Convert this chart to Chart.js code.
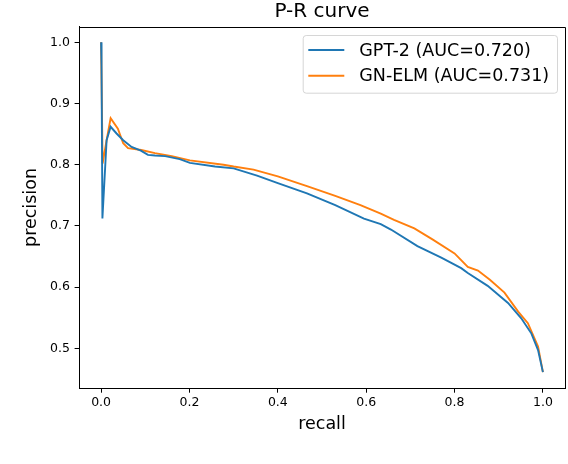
<!DOCTYPE html>
<html>
<head>
<meta charset="utf-8">
<script src="https://cdn.jsdelivr.net/npm/chart.js@4"></script>
<style>
  html, body { margin: 0; padding: 0; background: #ffffff; }
  #wrap { width: 568px; height: 464px; }
</style>
</head>
<body>
<div id="wrap"><canvas id="c" width="568" height="464" style="width:568px;height:464px"></canvas></div>
<script>
// ---- data ----
const seriesNames = ['GPT-2 (AUC=0.720)', 'GN-ELM (AUC=0.731)'];

const gptRecall = [0, 0.001, 0.003, 0.0125, 0.0216, 0.035, 0.05, 0.069, 0.09, 0.106, 0.122, 0.145, 0.178, 0.201, 0.258, 0.30, 0.353, 0.40, 0.466, 0.53, 0.595, 0.633, 0.656, 0.716, 0.77, 0.815, 0.83, 0.875, 0.921, 0.951, 0.974, 0.989, 1.0];
const gptPrecision = [1.0, 0.963, 0.712, 0.84, 0.862, 0.851, 0.84, 0.829, 0.823, 0.816, 0.815, 0.814, 0.809, 0.803, 0.797, 0.794, 0.782, 0.770, 0.753, 0.734, 0.712, 0.703, 0.694, 0.667, 0.648, 0.631, 0.623, 0.602, 0.574, 0.549, 0.524, 0.497, 0.461];

const gnRecall = [0, 0.0034, 0.0125, 0.0216, 0.038, 0.05, 0.061, 0.091, 0.122, 0.16, 0.201, 0.277, 0.30, 0.345, 0.40, 0.466, 0.53, 0.587, 0.633, 0.663, 0.709, 0.75, 0.80, 0.83, 0.853, 0.88, 0.913, 0.944, 0.966, 0.989, 1.0];
const gnPrecision = [1.0, 0.802, 0.84, 0.876, 0.859, 0.835, 0.827, 0.824, 0.819, 0.814, 0.807, 0.800, 0.797, 0.792, 0.781, 0.765, 0.749, 0.734, 0.720, 0.710, 0.696, 0.678, 0.655, 0.633, 0.627, 0.612, 0.591, 0.560, 0.541, 0.503, 0.461];

const xTickValues = [0.0, 0.2, 0.4, 0.6, 0.8, 1.0];
const yTickValues = [0.5, 0.6, 0.7, 0.8, 0.9, 1.0];

const titleText = 'P-R curve';
const xLabel = 'recall';
const yLabel = 'precision';

// ---- chart ----
const FONT = "'DejaVu Sans', 'Liberation Sans', sans-serif";
const toPoints = (xs, ys) => xs.map((x, i) => ({ x: x, y: ys[i] }));

const frameLegendPlugin = {
  id: 'frameLegend',
  afterDatasetsDraw(chart) {
    const ctx = chart.ctx;
    const a = chart.chartArea;
    ctx.save();
    // top and right spines (left/bottom come from the axes borders)
    ctx.strokeStyle = '#000000';
    ctx.lineWidth = 1;
    ctx.beginPath();
    ctx.moveTo(Math.round(a.left) + 0.5, Math.round(a.top) + 0.5);
    ctx.lineTo(Math.round(a.right) + 0.5, Math.round(a.top) + 0.5);
    ctx.lineTo(Math.round(a.right) + 0.5, Math.round(a.bottom) + 0.5);
    ctx.stroke();

    // legend box inside the plot (upper right)
    const bx = 302.7, by = 35, bw = 557 - 302.7, bh = 92.7 - 35;
    ctx.beginPath();
    ctx.roundRect(bx + 0.5, by + 0.5, bw, bh, 3);
    ctx.fillStyle = 'rgba(255,255,255,0.8)';
    ctx.fill();
    ctx.strokeStyle = 'rgba(204,204,204,0.8)';
    ctx.lineWidth = 1;
    ctx.stroke();

    const rows = [50, 75.7];
    chart.data.datasets.forEach((ds, i) => {
      const y = rows[i];
      ctx.strokeStyle = ds.borderColor;
      ctx.lineWidth = ds.borderWidth;
      ctx.beginPath();
      ctx.moveTo(308.3, y);
      ctx.lineTo(344.3, y);
      ctx.stroke();
      ctx.fillStyle = '#000000';
      ctx.font = '17.5px ' + FONT;
      ctx.textAlign = 'left';
      ctx.textBaseline = 'middle';
      ctx.fillText(ds.label, 359.3, y + 1);
    });
    ctx.restore();
  }
};

new Chart(document.getElementById('c'), {
  type: 'line',
  data: {
    datasets: [
      {
        label: seriesNames[0],
        data: toPoints(gptRecall, gptPrecision),
        borderColor: '#1f77b4',
        backgroundColor: '#1f77b4',
        borderWidth: 1.9,
        pointRadius: 0,
        tension: 0,
        fill: false
      },
      {
        label: seriesNames[1],
        data: toPoints(gnRecall, gnPrecision),
        borderColor: '#ff7f0e',
        backgroundColor: '#ff7f0e',
        borderWidth: 1.9,
        pointRadius: 0,
        tension: 0,
        fill: false
      }
    ]
  },
  options: {
    responsive: false,
    animation: false,
    devicePixelRatio: 1,
    layout: { padding: { left: 0, right: 3, top: 0, bottom: 0 } },
    plugins: {
      legend: { display: false },
      tooltip: { enabled: false },
      title: {
        display: true,
        fullSize: false,
        text: titleText,
        color: '#000000',
        font: { family: FONT, size: 20, weight: 'normal', lineHeight: 1.2 },
        padding: { top: 0, bottom: 2.7 }
      }
    },
    scales: {
      x: {
        type: 'linear',
        min: -0.05,
        max: 1.05,
        afterBuildTicks: (scale) => { scale.ticks = xTickValues.map(v => ({ value: v })); },
        afterFit: (scale) => { scale.height = 75.7; },
        ticks: {
          color: '#000000',
          font: { family: FONT, size: 12.5 },
          padding: 2.8,
          maxRotation: 0,
          autoSkip: false,
          callback: (v) => Number(v).toFixed(1)
        },
        grid: { drawOnChartArea: false, drawTicks: true, tickLength: 4.4, tickColor: '#000000', tickWidth: 1 },
        border: { display: true, color: '#000000', width: 1 },
        title: {
          display: true,
          text: xLabel,
          color: '#000000',
          font: { family: FONT, size: 17.5, lineHeight: 1.2 },
          padding: { top: 0, bottom: 29.5 }
        }
      },
      y: {
        type: 'linear',
        min: 0.4346,
        max: 1.0255,
        afterBuildTicks: (scale) => { scale.ticks = yTickValues.map(v => ({ value: v })); },
        afterFit: (scale) => { scale.width = 79; },
        ticks: {
          color: '#000000',
          font: { family: FONT, size: 12.5 },
          padding: 4.6,
          autoSkip: false,
          callback: (v) => Number(v).toFixed(1)
        },
        grid: { drawOnChartArea: false, drawTicks: true, tickLength: 4.4, tickColor: '#000000', tickWidth: 1 },
        border: { display: true, color: '#000000', width: 1 },
        title: {
          display: true,
          text: yLabel,
          color: '#000000',
          font: { family: FONT, size: 17.5, lineHeight: 1.2 },
          padding: { top: 21.4, bottom: 0 }
        }
      }
    }
  },
  plugins: [frameLegendPlugin]
});
</script>
</body>
</html>
